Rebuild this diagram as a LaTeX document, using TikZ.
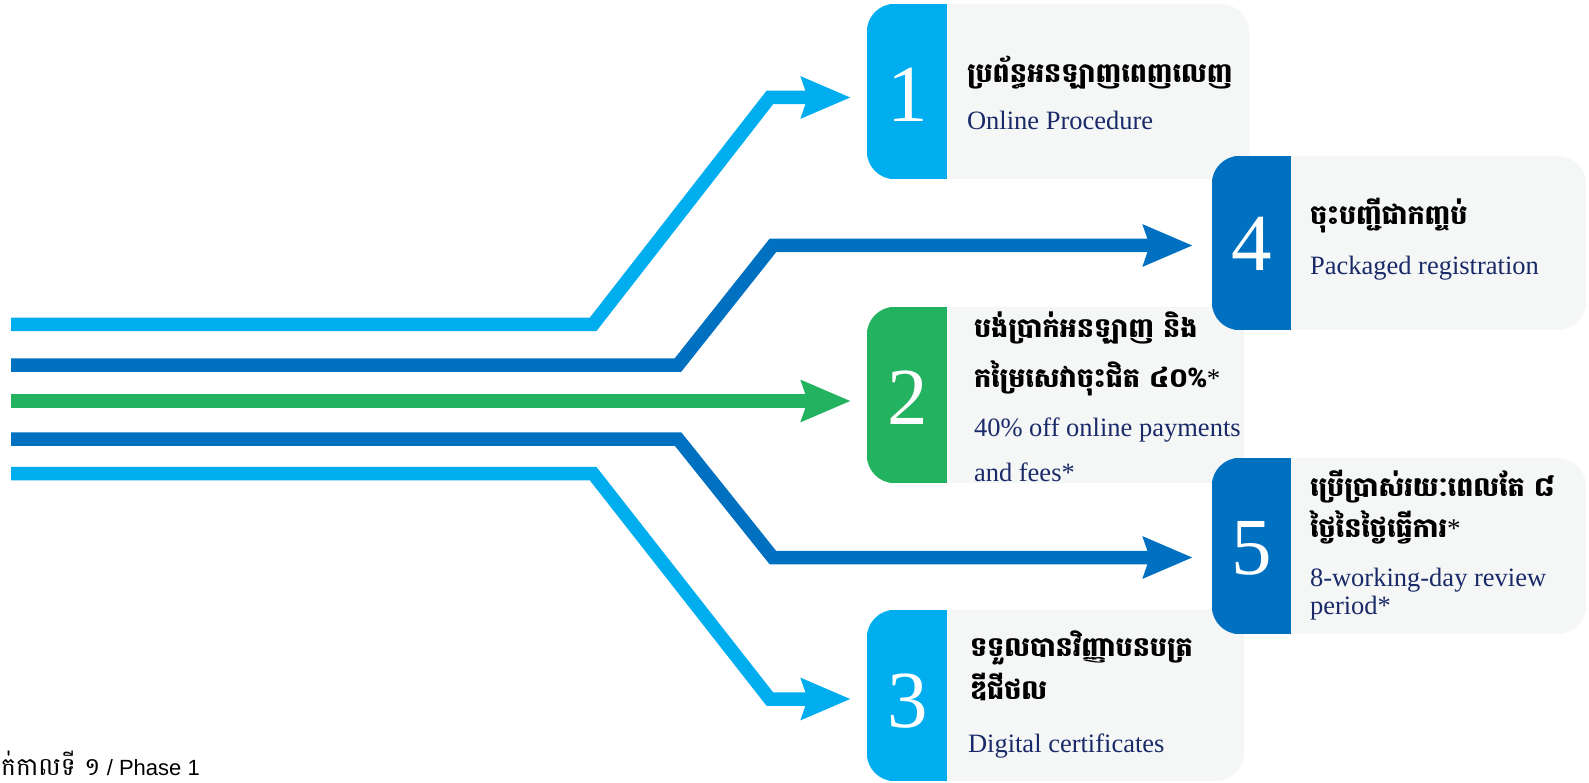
\documentclass[tikz,border=0pt]{standalone}
\usepackage{fontspec}
\setmainfont{Liberation Serif}
\setsansfont{Liberation Sans}
\newfontfamily\khmerfont[Script=Khmer]{Battambang}
\usetikzlibrary{arrows.meta,calc,positioning}
\definecolor{lightblue}{RGB}{0,174,239}
\definecolor{darkblue}{RGB}{0,112,192}
\definecolor{leafgreen}{RGB}{35,178,95}
\definecolor{boxgray}{RGB}{245,247,247}
\definecolor{navy}{RGB}{26,42,104}
\tikzstyle{card} = [rectangle, fill=boxgray, rounded corners=28pt, inner sep=0pt]
\tikzstyle{num} = [text=white, inner sep=0pt, font=\fontsize{81}{81}\selectfont]
\tikzstyle{kh} = [anchor=base west, inner sep=0pt,
    font=\khmerfont\bfseries\fontsize{27}{30}\selectfont]
\tikzstyle{en} = [anchor=base west, inner sep=0pt, text=navy,
    font=\fontsize{26.5}{30}\selectfont]
\tikzstyle{flow} = [line width=13.5pt, -{Stealth[length=49pt,width=40pt,inset=6pt]}]

\begin{document}
\begin{tikzpicture}[x=1pt,y=-1pt]
  \useasboundingbox (0,0) rectangle (1589,783);

  \node[card, minimum width=382pt, minimum height=175pt] (b1) at (1058,91.5) {};
  \node[card, minimum width=377pt, minimum height=176pt] (b2) at (1055.5,395) {};
  \node[card, minimum width=377pt, minimum height=171pt] (b3) at (1055.5,695.5) {};
  \foreach \b/\c in {b1/lightblue, b2/leafgreen, b3/lightblue} {
    \begin{scope}
      \clip[rounded corners=28pt] (\b.north west) rectangle (\b.south east);
      \fill[\c] (\b.north west) rectangle ($(\b.south west)+(80,0)$);
    \end{scope}
  }
  \node[card, minimum width=374pt, minimum height=174pt] (b4) at (1399,243) {};
  \node[card, minimum width=374pt, minimum height=176pt] (b5) at (1399,546) {};
  \foreach \b in {b4, b5} {
    \begin{scope}
      \clip[rounded corners=28pt] (\b.north west) rectangle (\b.south east);
      \fill[darkblue] (\b.north west) rectangle ($(\b.south west)+(79,0)$);
    \end{scope}
  }

  \node[num] (n1) at ($(b1.west)+(41,3)$) {1};
  \node[num] (n2) at ($(b2.west)+(41,2.5)$) {2};
  \node[num] (n3) at ($(b3.west)+(41,6)$) {3};
  \node[num] (n4) at ($(b4.west)+(40,1)$) {4};
  \node[num] (n5) at ($(b5.west)+(40,2)$) {5};

  \node[kh] (k1)  at ($(b1.north west)+(100,79)$)  {ប្រព័ន្ធអនឡាញពេញលេញ};
  \node[en] (e1)  at ($(b1.north west)+(100,126)$) {Online Procedure};
  \node[kh] (k2a) at ($(b2.north west)+(107,31)$)  {បង់ប្រាក់អនឡាញ និង};
  \node[kh] (k2b) at ($(b2.north west)+(107,81)$)  {កម្រៃសេវាចុះជិត ៤០\%{\rmfamily\mdseries *}};
  \node[en] (e2a) at ($(b2.north west)+(107,130)$) {40\% off online payments};
  \node[en] (e2b) at ($(b2.north west)+(107,175)$) {and fees*};
  \node[kh] (k3a) at ($(b3.north west)+(103,47)$)  {ទទួលបានវិញ្ញាបនបត្រ};
  \node[kh] (k3b) at ($(b3.north west)+(103,90)$)  {ឌីជីថល};
  \node[en] (e3)  at ($(b3.north west)+(101,143)$) {Digital certificates};
  \node[kh] (k4)  at ($(b4.north west)+(98,69)$)   {ចុះបញ្ជីជាកញ្ចប់};
  \node[en] (e4)  at ($(b4.north west)+(98,119)$)  {Packaged registration};
  \node[kh] (k5a) at ($(b5.north west)+(98,39)$)   {ប្រើប្រាស់រយៈពេលតែ ៨};
  \node[kh] (k5b) at ($(b5.north west)+(98,80)$)   {ថ្ងៃនៃថ្ងៃធ្វើការ{\rmfamily\mdseries *}};
  \node[en] (e5a) at ($(b5.north west)+(98,129)$)  {8-working-day review};
  \node[en] (e5b) at ($(b5.north west)+(98,157)$)  {period*};

  \coordinate (s1) at (11,324.5);
  \coordinate (s2) at (11,365);
  \coordinate (s3) at (11,401);
  \coordinate (s4) at (11,439);
  \coordinate (s5) at (11,473.5);
  \coordinate (t1) at ($(b1.west)+(-16,6)$);
  \coordinate (t2) at ($(b4.west)+(-19,2.5)$);
  \coordinate (t3) at ($(b2.west)+(-16,6)$);
  \coordinate (t4) at ($(b5.west)+(-19,11.5)$);
  \coordinate (t5) at ($(b3.west)+(-16,3.5)$);

  \draw[flow, lightblue] (s1) -- ++(582,0) -- ($(t1)+(-81,0)$) -- (t1);
  \draw[flow, darkblue]  (s2) -- ++(667,0) -- ($(t2)+(-420,0)$) -- (t2);
  \draw[flow, leafgreen] (s3) -- (t3);
  \draw[flow, darkblue]  (s4) -- ++(667,0) -- ($(t4)+(-420,0)$) -- (t4);
  \draw[flow, lightblue] (s5) -- ++(582,0) -- ($(t5)+(-81,0)$) -- (t5);

  \node[anchor=base east, inner sep=0pt, font=\sffamily\fontsize{22}{24}\selectfont]
    (phase) at (200,775) {{\khmerfont\fontsize{25}{26}\selectfont ដំណាក់កាលទី ១} / Phase 1};
\end{tikzpicture}
\end{document}
